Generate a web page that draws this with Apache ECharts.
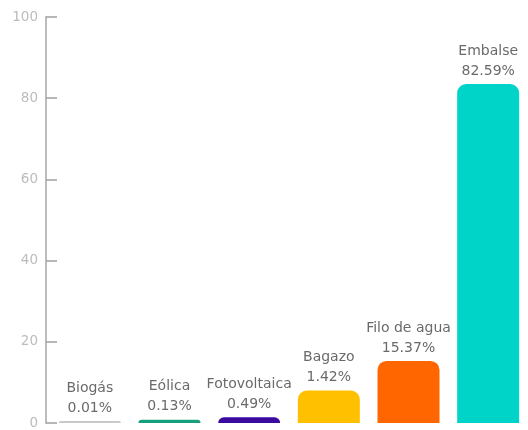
<!DOCTYPE html>
<html>
<head>
<meta charset="utf-8">
<script src="https://cdn.jsdelivr.net/npm/echarts@6/dist/echarts.min.js"></script>
<style>
  html, body { margin: 0; padding: 0; background: #fff; }
  #chart { width: 528px; height: 430px; }
</style>
</head>
<body>
<div id="chart"></div>
<script>
  // fuentes de generación
  var categories = ['Biogás', 'Eólica', 'Fotovoltaica', 'Bagazo', 'Filo de agua', 'Embalse']
  // porcentaje mostrado en la etiqueta
  var shares = ['0.01', '0.13', '0.49', '1.42', '15.37', '82.59']
  // altura de la barra tal como se ve en el gráfico
  var barHeights = [0.5, 0.8, 1.4, 8, 15.3, 83.5]
  var colors = ['#c9c9c9', '#17a07e', '#3b0a9e', '#ffc000', '#ff6600', '#00d4c8']
  var yTicks = [0, 20, 40, 60, 80, 100]

  var chart = echarts.init(document.getElementById('chart'))

  chart.setOption({
    animation: false,
    grid: {
      left: 50,
      right: -2,
      top: 17,
      bottom: 4
    },
    xAxis: {
      type: 'category',
      data: categories,
      axisLine: { show: false },
      axisTick: { show: false },
      axisLabel: { show: false }
    },
    yAxis: {
      type: 'value',
      min: yTicks[0],
      max: yTicks[yTicks.length - 1],
      interval: 20,
      offset: 4,
      axisLine: {
        show: true,
        lineStyle: { color: '#bdbdbd', width: 2 }
      },
      axisTick: {
        show: true,
        inside: true,
        length: 11,
        lineStyle: { color: '#a0a0a0', width: 1.5 }
      },
      splitLine: { show: false },
      axisLabel: {
        color: '#bcbcbc',
        fontSize: 13.5,
        fontFamily: 'DejaVu Sans',
        margin: 8
      }
    },
    series: [
      {
        type: 'bar',
        barWidth: 62,
        data: barHeights.map(function (v, i) {
          return {
            value: v,
            itemStyle: { color: colors[i] }
          }
        }),
        itemStyle: {
          borderRadius: [9, 9, 0, 0]
        },
        label: {
          show: true,
          position: 'top',
          distance: 3,
          color: '#6a6a6a',
          fontSize: 14,
          lineHeight: 20,
          fontFamily: 'DejaVu Sans',
          formatter: function (p) {
            return categories[p.dataIndex] + '\n' + shares[p.dataIndex] + '%'
          }
        }
      }
    ]
  })
</script>
</body>
</html>
